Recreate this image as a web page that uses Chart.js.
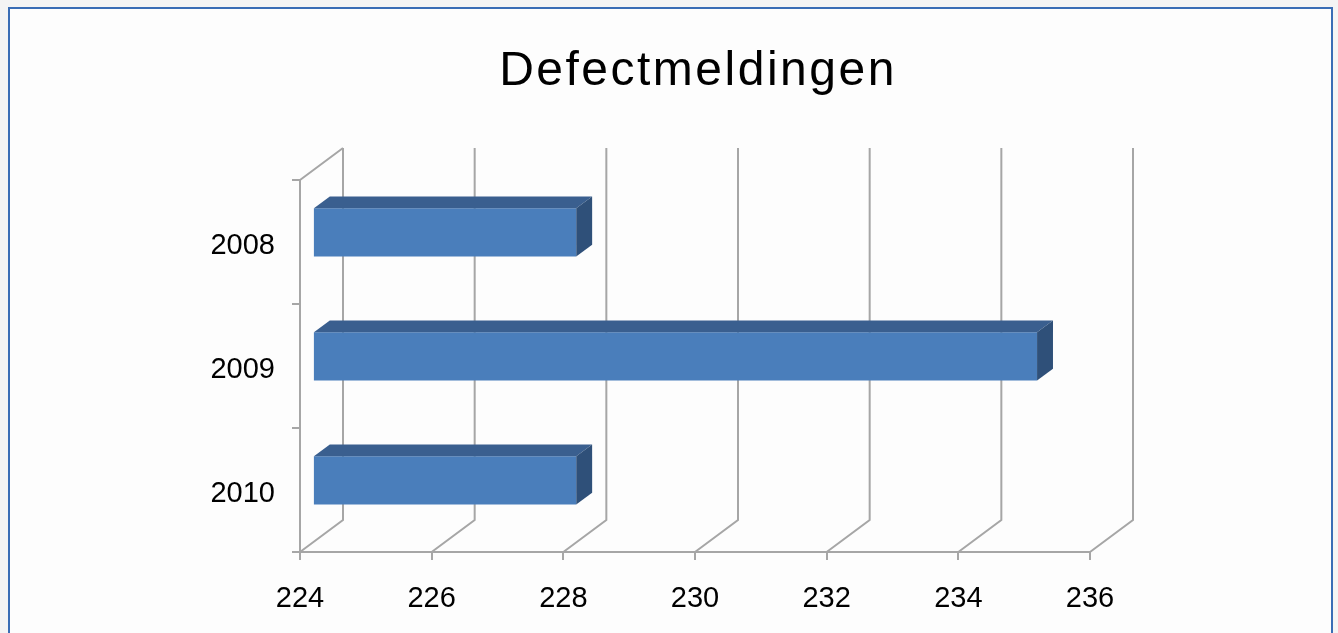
<!DOCTYPE html>
<html>
<head>
<meta charset="utf-8">
<title>Defectmeldingen</title>
<script src="https://cdn.jsdelivr.net/npm/chart.js@4/dist/chart.umd.min.js"></script>
<style>
  html, body { margin: 0; padding: 0; background: #f4f4f4; overflow: hidden; }
  #frame {
    position: absolute; left: 8px; top: 7px; width: 1325px; height: 660px;
    box-sizing: border-box; border: 2px solid #3a6db5; background: #fdfdfd;
  }
  #wrap { position: absolute; left: 0; top: 0; width: 1338px; height: 633px; }
</style>
</head>
<body>
<div id="frame"></div>
<div id="wrap"><canvas id="chart"></canvas></div>
<script>
"use strict";

// data
const years = ["2008", "2009", "2010"];
const meldingen = [228, 235, 228];
const axisMin = 224;
const axisMax = 236;
const axisStep = 2;

// 3D look: how far the back wall sits from the front plane
const depth = { x: 43, y: -32 };
const barFront = 0.3;   // fraction of depth where the bar front face is
const barBack = 0.67;   // fraction of depth where the bar back face is

const frontColor = "#4a7ebb";
const topColor = "#3a5f8f";
const sideColor = "#2f5079";
const gridColor = "#a6a6a6";

Chart.defaults.font.family = '"Liberation Sans", Arial, Helvetica, sans-serif';
Chart.defaults.color = "#000";

const $ = id => document.getElementById(id);

// title gets a bit of tracking, everything else none
const tracking = {
  id: "tracking",
  beforeDraw(chart) { chart.ctx.letterSpacing = "2.5px"; },
  beforeDatasetsDraw(chart) { chart.ctx.letterSpacing = "0px"; }
};

const box3d = {
  id: "box3d",
  beforeDatasetsDraw(chart) {
    const ctx = chart.ctx;
    const a = chart.chartArea;
    const x = chart.scales.x;
    ctx.save();
    ctx.strokeStyle = gridColor;
    ctx.lineWidth = 2;
    ctx.beginPath();
    x.ticks.forEach(t => {
      const px = x.getPixelForValue(t.value);
      ctx.moveTo(px, a.bottom);
      ctx.lineTo(px + depth.x, a.bottom + depth.y);
      ctx.lineTo(px + depth.x, a.top + depth.y);
    });
    ctx.moveTo(a.left, a.top);
    ctx.lineTo(a.left + depth.x, a.top + depth.y);
    ctx.stroke();
    ctx.restore();

    // bars are drawn a little way into the box
    ctx.save();
    ctx.translate(depth.x * barFront, depth.y * barFront);
  },
  afterDatasetsDraw(chart) {
    const ctx = chart.ctx;
    ctx.restore();
    const ox = depth.x * barFront, oy = depth.y * barFront;
    const dx = depth.x * (barBack - barFront), dy = depth.y * (barBack - barFront);
    chart.getDatasetMeta(0).data.forEach(bar => {
      const p = bar.getProps(["x", "y", "base", "height"], true);
      const top = p.y - p.height / 2 + oy;
      const bottom = p.y + p.height / 2 + oy;
      const left = p.base + ox;
      const right = p.x + ox;

      ctx.fillStyle = topColor;
      ctx.beginPath();
      ctx.moveTo(left, top);
      ctx.lineTo(right, top);
      ctx.lineTo(right + dx, top + dy);
      ctx.lineTo(left + dx, top + dy);
      ctx.closePath();
      ctx.fill();

      ctx.fillStyle = sideColor;
      ctx.beginPath();
      ctx.moveTo(right, top);
      ctx.lineTo(right + dx, top + dy);
      ctx.lineTo(right + dx, bottom + dy);
      ctx.lineTo(right, bottom);
      ctx.closePath();
      ctx.fill();
    });
  }
};

new Chart($("chart"), {
  type: "bar",
  data: {
    labels: years,
    datasets: [{
      data: meldingen,
      base: axisMin,
      backgroundColor: frontColor,
      borderWidth: 0,
      categoryPercentage: 1,
      barPercentage: 0.39
    }]
  },
  options: {
    indexAxis: "y",
    responsive: true,
    maintainAspectRatio: false,
    animation: false,
    layout: { padding: { left: 58, right: 0, top: 0, bottom: 0 } },
    plugins: {
      legend: { display: false },
      tooltip: { enabled: false },
      title: {
        display: true,
        text: "Defectmeldingen",
        color: "#000",
        font: { size: 48, weight: "normal" },
        padding: { top: 43, bottom: 79.4 }
      }
    },
    scales: {
      x: {
        min: axisMin,
        max: axisMax,
        afterFit(scale) { scale.height = 81; },
        grid: { drawOnChartArea: false, drawTicks: true, tickLength: 8, color: gridColor, lineWidth: 2 },
        border: { display: true, color: gridColor, width: 2 },
        ticks: { stepSize: axisStep, font: { size: 29 }, padding: 22, maxRotation: 0, autoSkip: false, z: 1 }
      },
      y: {
        afterFit(scale) { scale.width = 242; },
        grid: { drawOnChartArea: false, drawTicks: true, tickLength: 8, color: gridColor, lineWidth: 2 },
        border: { display: true, color: gridColor, width: 2 },
        ticks: { font: { size: 29 }, padding: 17, labelOffset: 4, z: 1 }
      },
      // empty space to the right of the plot
      spacer: {
        type: "linear",
        position: "right",
        afterFit(scale) { scale.width = 248; },
        grid: { display: false },
        border: { display: false },
        ticks: { display: false }
      }
    }
  },
  plugins: [tracking, box3d]
});
</script>
</body>
</html>
